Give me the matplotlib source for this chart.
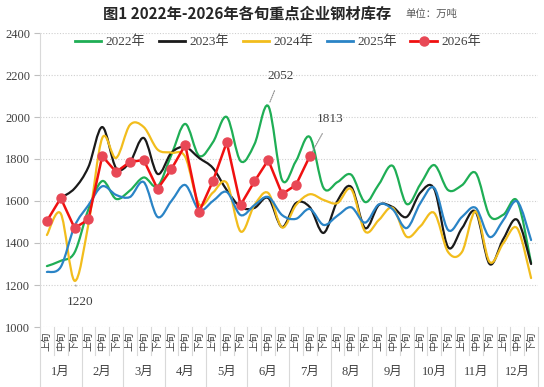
import numpy as np
import matplotlib
matplotlib.use("Agg")
import matplotlib.pyplot as plt
from matplotlib.path import Path
from matplotlib.patches import PathPatch
from matplotlib.lines import Line2D

plt.rcParams['font.family'] = ['Liberation Serif', 'Noto Sans CJK SC']

# 数据：每月上、中、下旬，共36个点（万吨）
months = [f"{m}月" for m in range(1, 13)]
dekads = ["上旬", "中旬", "下旬"]

y2022 = [1290, 1315, 1355, 1560, 1695, 1610, 1650, 1712, 1670, 1820, 1967, 1815,
         1880, 2000, 1790, 1870, 2052, 1700, 1790, 1905, 1662, 1690, 1725, 1595,
         1680, 1767, 1586, 1680, 1771, 1652, 1675, 1733, 1530, 1535, 1600, 1305]
y2023 = [None, 1615, 1660, 1762, 1952, 1757, 1785, 1900, 1729, 1830, 1857, 1805,
         1757, 1652, 1571, 1567, 1614, 1476, 1590, 1571, 1448, 1600, 1667, 1471,
         1581, 1571, 1524, 1640, 1657, 1380, 1470, 1548, 1300, 1420, 1510, 1300]
y2024 = [1438, 1540, 1220, 1490, 1900, 1805, 1962, 1952, 1845, 1830, 1810, 1585,
         1640, 1686, 1455, 1580, 1638, 1474, 1580, 1632, 1605, 1590, 1656, 1455,
         1510, 1567, 1430, 1480, 1543, 1357, 1357, 1550, 1310, 1400, 1470, 1233]
y2025 = [1262, 1286, 1480, 1580, 1670, 1629, 1619, 1690, 1524, 1600, 1676, 1557,
         1600, 1643, 1533, 1580, 1619, 1533, 1515, 1562, 1486, 1530, 1570, 1497,
         1584, 1560, 1471, 1590, 1662, 1462, 1524, 1567, 1429, 1510, 1598, 1414]
y2026 = [1505, 1614, 1471, 1512, 1814, 1738, 1786, 1795, 1657, 1752, 1867, 1548,
         1695, 1880, 1581, 1693, 1795, 1633, 1676, 1813]

series = [("2022年", y2022, "#1fae55"),
          ("2023年", y2023, "#1a1a1a"),
          ("2024年", y2024, "#f2bd1d"),
          ("2025年", y2025, "#2a84c6")]


def smooth_path(xs, ys):
    # 仿Excel平滑线：Catmull-Rom 转三次贝塞尔
    n = len(xs)
    verts = [(xs[0], ys[0])]
    codes = [Path.MOVETO]
    for k in range(n - 1):
        p0 = (xs[k - 1], ys[k - 1]) if k > 0 else (xs[k], ys[k])
        p1 = (xs[k], ys[k])
        p2 = (xs[k + 1], ys[k + 1])
        p3 = (xs[k + 2], ys[k + 2]) if k + 2 < n else p2
        c1 = (p1[0] + (p2[0] - p0[0]) / 6, p1[1] + (p2[1] - p0[1]) / 6)
        c2 = (p2[0] - (p3[0] - p1[0]) / 6, p2[1] - (p3[1] - p1[1]) / 6)
        verts += [c1, c2, p2]
        codes += [Path.CURVE4] * 3
    return Path(verts, codes)


fig = plt.figure(figsize=(5.44, 3.87), dpi=100)
ax = fig.add_axes([40 / 544, 1 - 327 / 387, 498 / 544, 294 / 387])

handles = []
for name, vals, col in series:
    xs = [i for i, v in enumerate(vals) if v is not None]
    ys = [v for v in vals if v is not None]
    ax.add_patch(PathPatch(smooth_path(xs, ys), facecolor="none", edgecolor=col,
                           lw=1.6, zorder=3, capstyle="round"))
    handles.append(Line2D([], [], color=col, lw=2, label=name))

ax.plot(range(len(y2026)), y2026, color="#f01010", lw=1.8, marker="o",
        markersize=6.5, markerfacecolor="#e84856", markeredgecolor="#e84856",
        zorder=5)
handles.append(Line2D([], [], color="#f01010", lw=2, marker="o", markersize=6.5,
                      markerfacecolor="#e84856", markeredgecolor="#e84856",
                      label="2026年"))

ax.set_xlim(-0.5, 35.5)
ax.set_ylim(1000, 2400)
ax.set_yticks(range(1000, 2401, 200))
ax.yaxis.grid(True, linestyle=(0, (1, 1.5)), color="#cfcfcf", lw=0.8)
ax.set_axisbelow(True)
for s in ["top", "right", "bottom"]:
    ax.spines[s].set_visible(False)
ax.spines["left"].set_color("#d9d9d9")
ax.tick_params(axis="y", length=4, color="#bfbfbf", labelsize=9,
               labelcolor="#404040", pad=3)
ax.set_xticks([])

# 两级分类坐标轴
trans = ax.get_xaxis_transform()
for i in range(36):
    ax.text(i, -0.048, dekads[i % 3], rotation=90, ha="center", va="center",
            fontsize=7, color="#404040", transform=trans, clip_on=False,
            family="Noto Sans CJK SC")
for b in range(37):
    low = -0.204 if b % 3 == 0 else -0.095
    ax.plot([b - 0.5, b - 0.5], [0, low], color="#d9d9d9", lw=0.8,
            transform=trans, clip_on=False)
for m in range(12):
    ax.text(3 * m + 1, -0.153, months[m], ha="center", va="center", fontsize=9,
            color="#404040", transform=trans, clip_on=False)

# 数值标注
notes = [(16, y2022[16], "2052", (9, 22)),
         (19, y2026[19], "1813", (15, 27)),
         (2, y2024[2], "1220", (4, -15))]
for xi, yv, txt, off in notes:
    ax.annotate(txt, xy=(xi, yv), xytext=off, textcoords="offset points",
                ha="center", va="center", fontsize=9.5, color="#404040",
                arrowprops=dict(arrowstyle="-", color="#8c8c8c", lw=0.8,
                                linestyle=(0, (1, 1)), shrinkA=5, shrinkB=3))

fig.legend(handles=handles, loc="center", bbox_to_anchor=(278 / 544, 1 - 42 / 387),
           ncol=5, frameon=False, fontsize=9.5, handlelength=2.0,
           handletextpad=0.35, columnspacing=1.0, labelcolor="#404040")

fig.text(247 / 544, 1 - 14 / 387, "图1 2022年-2026年各旬重点企业钢材库存",
         ha="center", va="center", fontsize=11, fontweight="bold",
         family="Noto Sans CJK SC", color="#262626")
fig.text(405 / 544, 1 - 14 / 387, "单位：万吨", ha="left", va="center",
         fontsize=7.5, family="Noto Sans CJK SC", color="#595959")

fig.savefig("out.png", dpi=100)
